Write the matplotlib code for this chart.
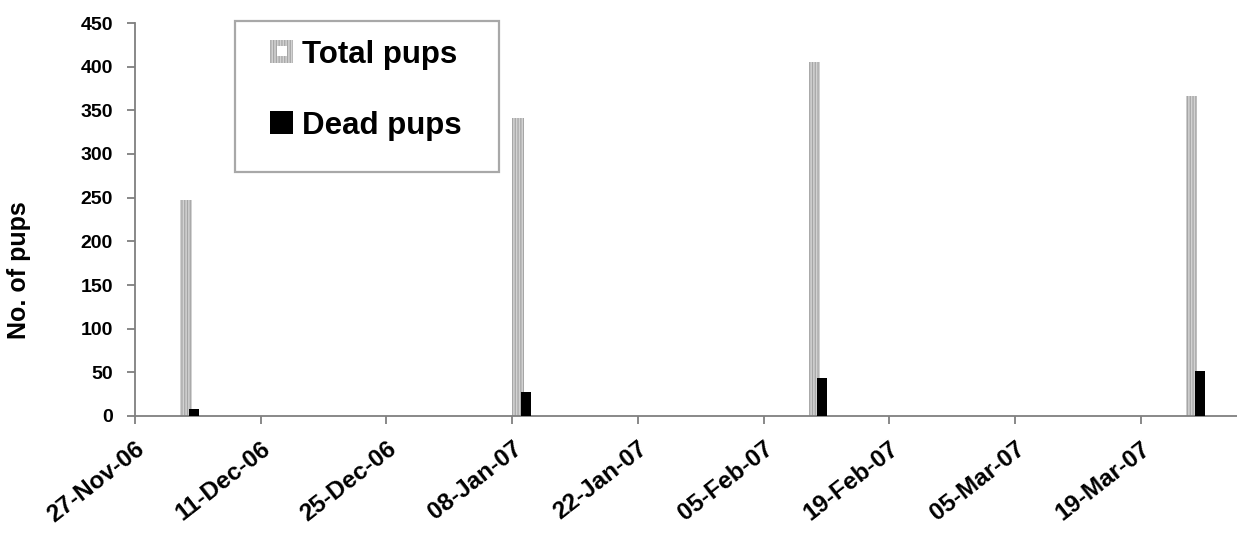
import matplotlib
matplotlib.use("Agg")
import matplotlib.pyplot as plt
import matplotlib.dates as mdates
from matplotlib.patches import Rectangle, Patch
import pandas as pd

# survey data
survey_dates = ["2006-12-02", "2007-01-08", "2007-02-10", "2007-03-24"]
total_pups = [247, 341, 405, 366]
dead_pups = [8, 27, 43, 52]
tick_dates = pd.date_range("2006-11-27", periods=9, freq="14D")

plt.rcParams["font.family"] = ["Liberation Sans", "DejaVu Sans"]
plt.rcParams["font.weight"] = "bold"
plt.rcParams["hatch.linewidth"] = 0.9

W, H = 1237, 538
fig = plt.figure(figsize=(W / 100, H / 100), dpi=100)

# axes box in pixel terms
left, right, top, bottom = 135, 1266.5, 23, 416
ax = fig.add_axes([left / W, 1 - bottom / H, (right - left) / W, (bottom - top) / H])

d = mdates.date2num(pd.to_datetime(survey_dates))
ax.bar(d, total_pups, width=1.3, align="edge", facecolor="#d2d2d2",
       edgecolor="#a6a6a6", linewidth=0, hatch="||||||", zorder=2)
ax.bar(d + 1.0, dead_pups, width=1.1, align="edge", color="black",
       linewidth=0, zorder=3)

ax.set_xlim(mdates.date2num(tick_dates[0]), mdates.date2num(tick_dates[0]) + 126)
ax.set_ylim(0, 450)
ax.set_yticks(range(0, 451, 50))
ax.set_xticks(mdates.date2num(tick_dates))
ax.xaxis.set_major_formatter(mdates.DateFormatter("%d-%b-%y"))

for s in ["top", "right"]:
    ax.spines[s].set_visible(False)
for s in ["left", "bottom"]:
    ax.spines[s].set_color("#7f7f7f")
    ax.spines[s].set_linewidth(1.3)
ax.tick_params(axis="both", colors="#7f7f7f", length=6, width=1.3,
               labelcolor="black")
ax.tick_params(axis="y", pad=10, labelsize=14)
ax.tick_params(axis="x", pad=9, labelsize=17.5)
for lab in ax.get_xticklabels():
    lab.set_rotation(38)
    lab.set_ha("right")
    lab.set_va("top")
    lab.set_rotation_mode("anchor")
    lab.set_fontweight("bold")
for lab in ax.get_yticklabels():
    lab.set_fontweight("bold")

ax.set_ylabel("No. of pups", fontsize=18, fontweight="bold")
ax.yaxis.set_label_coords(19 / W, 1 - 270 / H, transform=fig.transFigure)
ax.yaxis.label.set_va("center")


class HatchKey:
    def legend_artist(self, legend, orig_handle, fontsize, handlebox):
        x0, y0 = handlebox.xdescent, handlebox.ydescent
        w, h = handlebox.width, handlebox.height
        tr = handlebox.get_transform()
        outer = Rectangle((x0, y0), w, h, facecolor="#d2d2d2", edgecolor="#a6a6a6",
                          linewidth=0, hatch="||||||", transform=tr)
        inner = Rectangle((x0 + w * 0.32, y0 + h * 0.28), w * 0.4, h * 0.46,
                          facecolor="white", linewidth=0, transform=tr)
        handlebox.add_artist(outer)
        handlebox.add_artist(inner)
        return outer


total_key = Patch(label="Total pups")
dead_key = Patch(facecolor="black", label="Dead pups")
fig.legend(handles=[total_key, dead_key], handler_map={total_key: HatchKey()},
           loc="upper left", bbox_to_anchor=(270 / W, 1 - 40 / H),
           frameon=False, borderpad=0, borderaxespad=0,
           prop={"size": 22.5, "weight": "bold"},
           handlelength=0.74, handleheight=0.74, handletextpad=0.3,
           labelspacing=1.3)
fig.patches.append(Rectangle((235 / W, 1 - 172 / H), 264 / W, 151 / H,
                             transform=fig.transFigure, facecolor="none",
                             edgecolor="#a8a8a8", linewidth=1.6))

fig.savefig("out.png", dpi=100)
